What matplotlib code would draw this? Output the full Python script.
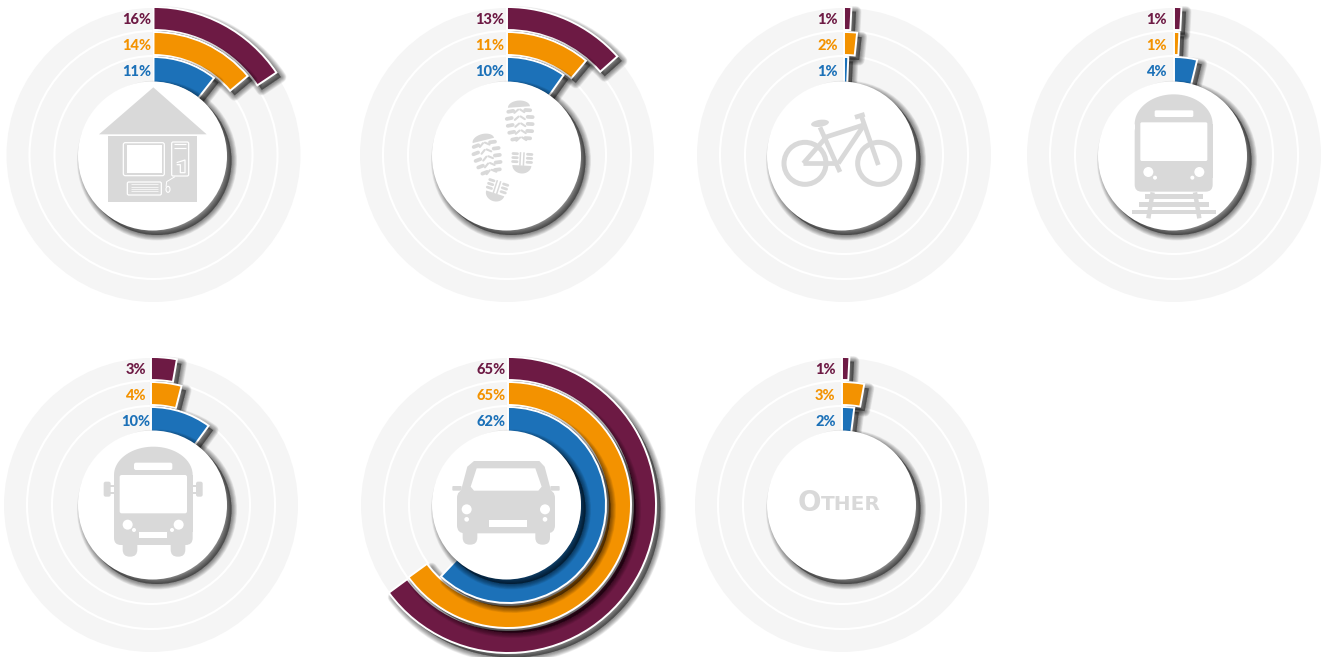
import matplotlib
matplotlib.use("Agg")
import matplotlib.pyplot as plt
from matplotlib.patches import Circle, Ellipse, FancyBboxPatch, Polygon, Rectangle, Wedge
import matplotlib.transforms as mtrans
import numpy as np

modes = ["Home", "Walk", "Bike", "Train", "Bus", "Car", "Other"]
maroon_values = [15.6, 13.4, 0.8, 0.8, 2.8, 64.9, 0.8]
orange_values = [13.9, 11.1, 1.7, 0.7, 4.0, 65.0, 2.9]
blue_values = [10.6, 9.8, 0.7, 3.8, 10.0, 62.0, 2.0]

MAROON = "#6d1a44"
ORANGE = "#f39200"
BLUE = "#1c71b8"
DISC = "#f5f5f5"
ICON = "#d9d9d9"

# centre of the rings and of the white hub for each mode
ring_xy = [(153.5, 155), (507, 155), (844, 155), (1174, 155), (151, 505), (508, 505), (842, 505)]
hub_xy = [(152.5, 156), (506.5, 156), (841.5, 156), (1172.5, 156), (152.5, 505), (506.5, 505), (841.5, 505)]
label_anchor = [153.5, 507, 844, 1173, 152.5, 508, 842]

fig = plt.figure(figsize=(13.3, 6.57), dpi=100)
ax = fig.add_axes([0, 0, 1, 1])
ax.set_xlim(0, 1330)
ax.set_ylim(657, 0)
ax.axis("off")


def shadow(make_patch, dx=4.5, dy=4.5):
    # soft shadow: a stack of faint copies that get narrower
    for lw in np.arange(8, 0, -0.8):
        p = make_patch(dx, dy)
        p.set(facecolor=(0, 0, 0, 0.055), edgecolor=(0, 0, 0, 0.055), linewidth=lw, joinstyle="round")
        ax.add_patch(p)


def ring_wedge(xy, r_out, r_in, value, color):
    end = -90 + value * 3.6
    shadow(lambda dx, dy: Wedge((xy[0] + dx, xy[1] + dy), r_out, -90, end, width=r_out - r_in))
    ax.add_patch(Wedge(xy, r_out, -90, end, width=r_out - r_in, facecolor=color,
                       edgecolor="white", linewidth=1.4))


def zpt(x0, y0, x, y):
    return x0 + x / 3, y0 + y / 3


def zrect(x0, y0, x1, y1, x2, y2, color=ICON, rad=0):
    a = zpt(x0, y0, x1, y1)
    b = zpt(x0, y0, x2, y2)
    if rad:
        ax.add_patch(FancyBboxPatch((a[0] + rad, a[1] + rad), b[0] - a[0] - 2 * rad, b[1] - a[1] - 2 * rad,
                                    boxstyle="round,pad=%s,rounding_size=%s" % (rad, rad),
                                    facecolor=color, edgecolor="none"))
    else:
        ax.add_patch(Rectangle(a, b[0] - a[0], b[1] - a[1], facecolor=color, edgecolor="none"))


def zcirc(x0, y0, x, y, r, color="white"):
    ax.add_patch(Circle(zpt(x0, y0, x, y), r / 3, facecolor=color, edgecolor="none"))


def zline(x0, y0, pts, lw=3.0, color=ICON, cap="butt"):
    xy = np.array([zpt(x0, y0, *p) for p in pts])
    ax.plot(xy[:, 0], xy[:, 1], color=color, lw=lw, solid_capstyle=cap, solid_joinstyle="round")


def domed_body(x0, y0, left, top, right, bottom, dome):
    t = np.linspace(np.pi, 0, 40)
    cx = (left + right) / 2
    w = (right - left) / 2
    arch = [zpt(x0, y0, cx + w * np.cos(a), top + dome - dome * np.sin(a)) for a in t]
    ax.add_patch(Polygon(arch, closed=True, facecolor=ICON, edgecolor="none"))
    zrect(x0, y0, left, top + dome, right, bottom, rad=7)
    zrect(x0, y0, left, top + dome, right, bottom - 40)


def draw_home():
    x0, y0 = 0, 0
    ax.add_patch(Polygon([zpt(x0, y0, 460, 262), zpt(x0, y0, 297, 403), zpt(x0, y0, 620, 403)],
                         facecolor=ICON, edgecolor="none"))
    zrect(x0, y0, 324, 408, 592, 605)
    # monitor
    ax.add_patch(FancyBboxPatch(zpt(x0, y0, 370, 428), 41, 33, boxstyle="round,pad=0,rounding_size=2",
                                facecolor="none", edgecolor="white", lw=0.9))
    zrect(x0, y0, 380, 436, 486, 520, color="white")
    # tower
    ax.add_patch(FancyBboxPatch(zpt(x0, y0, 515, 426), 17, 34, boxstyle="round,pad=0,rounding_size=1.5",
                                facecolor="none", edgecolor="white", lw=0.9))
    zline(x0, y0, [(522, 431), (558, 431)], lw=0.8, color="white")
    zline(x0, y0, [(522, 443), (558, 443)], lw=0.8, color="white")
    zline(x0, y0, [(530, 488), (555, 480), (555, 518), (541, 518), (541, 494), (530, 494)], lw=0.9, color="white")
    # keyboard and mouse
    ax.add_patch(FancyBboxPatch(zpt(x0, y0, 382, 546), 34, 13, boxstyle="round,pad=0,rounding_size=1.5",
                                facecolor="none", edgecolor="white", lw=0.9))
    for y in [553, 560, 567, 574]:
        zline(x0, y0, [(392, y), (474, y)], lw=0.7, color="#f4f4f4")
    zline(x0, y0, [(525, 530), (500, 545), (498, 560)], lw=0.7, color="white")
    ax.add_patch(Ellipse(zpt(x0, y0, 504, 568), 4, 6, facecolor="none", edgecolor="white", lw=0.8))


def draw_boot(cx, cy, angle):
    # sole print in a local frame, then rotated
    tr = mtrans.Affine2D().rotate_deg(angle).translate(cx, cy) + ax.transData
    for i, v in enumerate([-11, -4, 3, 10, 17]):
        half = [11, 13, 12.5, 11.5, 9][i]
        for s in [-1, 1]:
            ax.plot([s * half, s * (half - 5)], [v, v - 0.6], color=ICON, lw=2.7, solid_capstyle="round", transform=tr)
            ax.plot([s * 5, s * 1], [v + 1.5, v - 1.5], color=ICON, lw=1.5, solid_capstyle="round", transform=tr)
    t = np.linspace(np.pi, 0, 30)
    toe = np.column_stack([11 * np.cos(t), -15 - 6.5 * np.sin(t)])
    ax.add_patch(Polygon(toe, closed=True, facecolor=ICON, edgecolor="none", transform=tr))


def draw_heel(cx, cy, angle):
    tr = mtrans.Affine2D().rotate_deg(angle).translate(cx, cy) + ax.transData
    for v in [-9, -5, -1]:
        for s in [-1, 1]:
            ax.plot([s * 9.5, s * 5], [v, v], color=ICON, lw=2.0, solid_capstyle="round", transform=tr)
    for x in [-2, 1.5]:
        ax.plot([x, x], [-10, 2], color=ICON, lw=1.1, transform=tr)
    t = np.linspace(0, np.pi, 30)
    cres = np.column_stack([9.5 * np.cos(t), 2.5 + 8 * np.sin(t)])
    ax.add_patch(Polygon(cres, closed=True, facecolor=ICON, edgecolor="none", transform=tr))


def draw_walk():
    draw_boot(520, 122, -4)
    draw_boot(487, 155, -14)
    draw_heel(522, 163, 3)
    draw_heel(496, 191, 18)


def draw_bike():
    x0, y0 = 760, 0
    for cx in [135, 356]:
        ax.add_patch(Circle(zpt(x0, y0, cx, 490), 21, facecolor="none", edgecolor=ICON, lw=3.6))
    for pts in [[(180, 382), (240, 516)], [(195, 412), (310, 375)], [(312, 375), (235, 490)],
                [(130, 490), (235, 490)], [(130, 490), (200, 410)], [(303, 345), (355, 495)],
                [(285, 352), (314, 343)]]:
        zline(x0, y0, pts, lw=3.4)
    ax.add_patch(Ellipse(zpt(x0, y0, 180, 370), 18, 7, angle=-8, facecolor=ICON, edgecolor="none"))


def draw_train():
    x0, y0 = 1060, 0
    domed_body(x0, y0, 224, 283, 458, 575, 90)
    zrect(x0, y0, 284, 331, 400, 351, color="white", rad=1.5)
    zrect(x0, y0, 241, 367, 442, 483, color="white", rad=1.5)
    for x, s in [(265, 15), (418, 15)]:
        zcirc(x0, y0, x, 516, s)
    for x in [285, 397]:
        zcirc(x0, y0, x, 533, 6)
    for x1, x2, y1, y2 in [(255, 428, 583, 597), (237, 447, 606, 620), (217, 467, 630, 643)]:
        zrect(x0, y0, x1, y1, x2, y2)
    zline(x0, y0, [(278, 577), (265, 655)], lw=3.2)
    zline(x0, y0, [(405, 577), (418, 655)], lw=3.2)


def draw_bus():
    x0, y0 = 70, 430
    domed_body(x0, y0, 132, 50, 368, 345, 85)
    for x1, x2 in [(158, 202), (302, 346)]:
        zrect(x0, y0, x1, 320, x2, 380, rad=7)
    zrect(x0, y0, 101, 155, 122, 200, rad=2)
    zrect(x0, y0, 378, 155, 398, 200, rad=2)
    zrect(x0, y0, 118, 165, 134, 172)
    zrect(x0, y0, 118, 186, 134, 193)
    zrect(x0, y0, 366, 165, 382, 172)
    zrect(x0, y0, 366, 186, 382, 193)
    zrect(x0, y0, 192, 98, 307, 120, color="white", rad=2)
    zrect(x0, y0, 149, 135, 351, 250, color="white", rad=2)
    for x in [173, 326]:
        zcirc(x0, y0, x, 284, 15)
    for x in [192, 306]:
        zcirc(x0, y0, x, 300, 6)
    zrect(x0, y0, 207, 306, 292, 324, color="white")


def draw_car():
    x0, y0 = 350, 350
    for x1, x2 in [(338, 382), (556, 600)]:
        zrect(x0, y0, x1, 530, x2, 584, rad=7)
    roof = [(372, 333), (568, 333), (584, 350), (604, 425), (332, 425), (352, 350)]
    ax.add_patch(Polygon([zpt(x0, y0, *p) for p in roof], facecolor=ICON, edgecolor="none"))
    zrect(x0, y0, 321, 420, 615, 550, rad=8)
    zrect(x0, y0, 307, 408, 335, 422, rad=1)
    zrect(x0, y0, 601, 408, 629, 422, rad=1)
    win = [(380, 355), (556, 355), (575, 410), (565, 422), (372, 422), (362, 410)]
    ax.add_patch(Polygon([zpt(x0, y0, *p) for p in win], facecolor="white", edgecolor="none"))
    for x in [350, 585]:
        zcirc(x0, y0, x, 478, 15)
        zcirc(x0, y0, x, 508, 7)
    zrect(x0, y0, 416, 510, 531, 532, color="white")


def draw_other():
    ax.text(809, 503, "O", fontsize=20, fontweight="bold", color=ICON, family="DejaVu Sans",
            ha="center", va="center")
    ax.text(851, 504, "THER", fontsize=14.5, fontweight="bold", color=ICON, family="DejaVu Sans",
            ha="center", va="center")


icons = [draw_home, draw_walk, draw_bike, draw_train, draw_bus, draw_car, draw_other]
series = [(maroon_values, MAROON, 148, 125, 134.5), (orange_values, ORANGE, 123, 100, 109.5), (blue_values, BLUE, 98, 72, 83.5)]

for i, mode in enumerate(modes):
    xy = ring_xy[i]
    ax.add_patch(Circle(xy, 147, facecolor=DISC, edgecolor="none"))
    for r in [124, 99]:
        ax.add_patch(Circle(xy, r, facecolor="none", edgecolor="white", lw=1.5))

    for values, color, r_out, r_in, r_text in series:
        ring_wedge(xy, r_out, r_in, values[i], color)
        label = "%d%%" % max(1, round(values[i]))
        offset = 31.5 if len(label) == 3 else 27
        ax.text(label_anchor[i] - offset, xy[1] - r_text, label, color=color, fontsize=10.5,
                fontweight="black", family="Lato", ha="left", va="center")

    hub = hub_xy[i]
    shadow(lambda dx, dy: Circle((hub[0] + dx, hub[1] + dy), 74.5))
    ax.add_patch(Circle(hub, 74.5, facecolor="white", edgecolor="none"))
    icons[i]()

fig.savefig("out.png", dpi=100)
